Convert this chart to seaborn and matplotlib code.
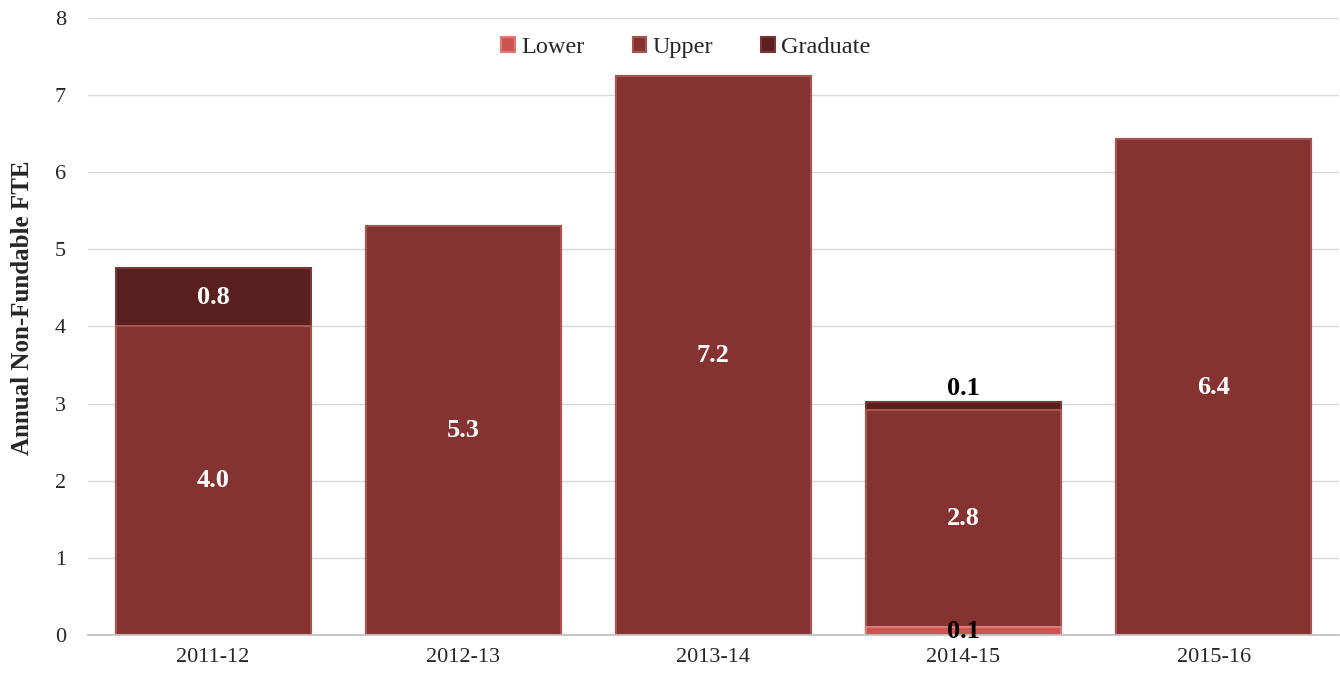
import numpy as np
import seaborn as sns
import pandas as pd
import matplotlib.pyplot as plt

years = ['2011-12', '2012-13', '2013-14', '2014-15', '2015-16']
lower = [0.0, 0.0, 0.0, 0.1, 0.0]
upper = [4.0, 5.3, 7.25, 2.82, 6.43]
graduate = [0.76, 0.0, 0.0, 0.1, 0.0]

sns.set_theme(style="white")
plt.rcParams['font.family'] = ['Liberation Serif', 'DejaVu Serif']

df = pd.DataFrame({'year': years, 'Lower': lower, 'Upper': upper, 'Graduate': graduate})
df['lu'] = df['Lower'] + df['Upper']
df['total'] = df['lu'] + df['Graduate']

c_low = '#cc5452'
c_up = '#843331'
c_grad = '#59201f'

fig, ax = plt.subplots(figsize=(13.4, 6.79), dpi=100)
fig.subplots_adjust(left=0.0657, right=0.999, bottom=0.0648, top=0.9735)

# stacked by drawing cumulative totals back to front
sns.barplot(data=df, x='year', y='total', color=c_grad, width=0.78, saturation=1,
            edgecolor='#7a3836', linewidth=1.5, ax=ax, label='Graduate')
sns.barplot(data=df, x='year', y='lu', color=c_up, width=0.78, saturation=1,
            edgecolor='#a85550', linewidth=1.5, ax=ax, label='Upper')
sns.barplot(data=df, x='year', y='Lower', color=c_low, width=0.78, saturation=1,
            edgecolor='#e07a76', linewidth=1.5, ax=ax, label='Lower')

# value labels
lab_fs = 19
for i in range(len(years)):
    if lower[i] > 0:
        ax.text(i, lower[i] / 2, f'{lower[i]:.1f}', ha='center', va='center',
                fontsize=lab_fs, fontweight='bold', color='black')
    if upper[i] > 0:
        ax.text(i, lower[i] + upper[i] / 2, f'{upper[i]:.1f}', ha='center', va='center',
                fontsize=lab_fs, fontweight='bold', color='white')
    if graduate[i] >= 0.5:
        ax.text(i, lower[i] + upper[i] + graduate[i] / 2, f'{graduate[i]:.1f}',
                ha='center', va='center', fontsize=lab_fs, fontweight='bold', color='white')
    elif graduate[i] > 0:
        ax.text(i, lower[i] + upper[i] + graduate[i] + 0.03, f'{graduate[i]:.1f}',
                ha='center', va='bottom', fontsize=lab_fs, fontweight='bold', color='black')

ax.set_ylim(0, 8)
ax.set_xlim(-0.5, 4.5)
ax.set_yticks(range(0, 9))
ax.yaxis.grid(True, color='#d9d9d9', linewidth=1)
ax.set_axisbelow(True)
for s in ['top', 'right', 'left']:
    ax.spines[s].set_visible(False)
ax.spines['bottom'].set_color('#bfbfbf')
ax.tick_params(axis='both', labelsize=16, length=0)
ax.tick_params(axis='y', pad=16)
ax.tick_params(axis='x', pad=9)
ax.set_xlabel('')
ax.set_ylabel('Annual Non-Fundable FTE', fontsize=18, fontweight='bold')
ax.yaxis.set_label_coords(-0.043, 0.53)

h, l = ax.get_legend_handles_labels()
order = [l.index('Lower'), l.index('Upper'), l.index('Graduate')]
ax.legend([h[k] for k in order], [l[k] for k in order], loc='upper center',
          bbox_to_anchor=(0.478, 1.005), ncol=3, frameon=False, fontsize=17.5,
          handlelength=0.55, handleheight=0.55, handletextpad=0.25, columnspacing=2.0)

fig.savefig('out.png', dpi=100)
